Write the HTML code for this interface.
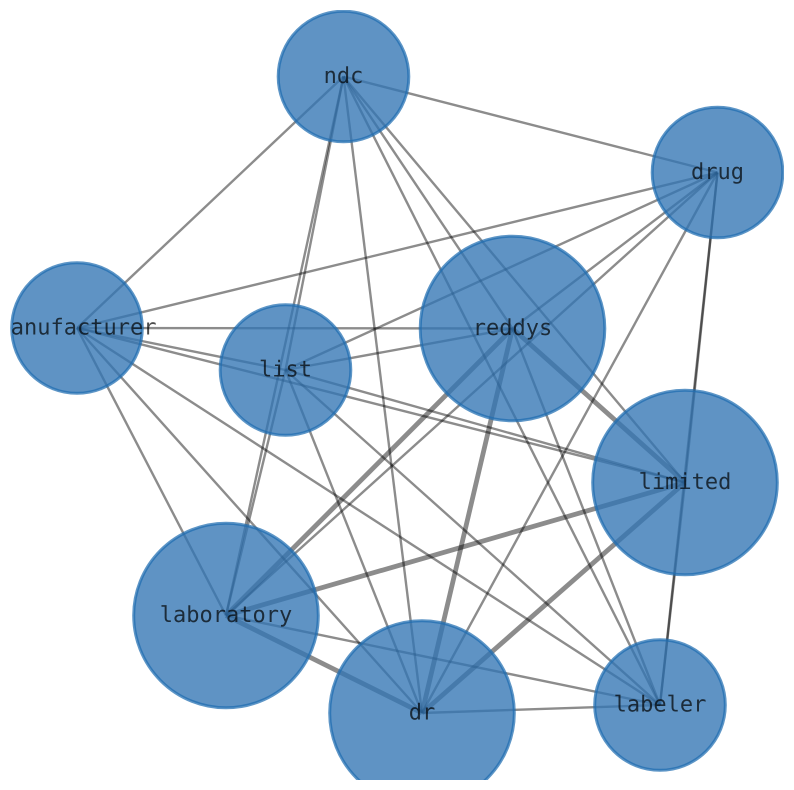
<!DOCTYPE html>
<html>
<head>
<meta charset="utf-8">
<style>
html,body{margin:0;padding:0;background:#fff;width:794px;height:790px;overflow:hidden}
svg{display:block}
.e line{stroke:#000;stroke-opacity:.45;stroke-width:2.4;fill:none}
.e line.t{stroke-width:4.8}
.n circle{fill:#3274b4;fill-opacity:.78;stroke:#1f6cb0;stroke-opacity:.72;stroke-width:3}
text{font-family:"DejaVu Sans Mono","Liberation Mono",monospace;font-size:22px;fill:#000;fill-opacity:.7;text-anchor:middle;dominant-baseline:central;text-rendering:geometricPrecision}
</style>
</head>
<body>
<svg width="794" height="790" viewBox="0 0 794 790" xmlns="http://www.w3.org/2000/svg">
<defs><clipPath id="c"><rect x="10" y="10" width="774" height="770"/></clipPath></defs>
<g clip-path="url(#c)">
<g class="e">
<line x1="343.5" y1="76.5" x2="717.5" y2="172.5"/>
<line x1="343.5" y1="76.5" x2="77" y2="328"/>
<line x1="343.5" y1="76.5" x2="285.5" y2="370"/>
<line x1="343.5" y1="76.5" x2="512.5" y2="328.5"/>
<line x1="343.5" y1="76.5" x2="685" y2="482.5"/>
<line x1="343.5" y1="76.5" x2="226" y2="615.5"/>
<line x1="343.5" y1="76.5" x2="422" y2="713"/>
<line x1="343.5" y1="76.5" x2="660" y2="705"/>
<line x1="717.5" y1="172.5" x2="77" y2="328"/>
<line x1="717.5" y1="172.5" x2="285.5" y2="370"/>
<line x1="717.5" y1="172.5" x2="512.5" y2="328.5"/>
<line x1="717.5" y1="172.5" x2="226" y2="615.5"/>
<line x1="717.5" y1="172.5" x2="422" y2="713"/>
<line x1="717.5" y1="172.5" x2="685" y2="482.5"/>
<line x1="717.5" y1="172.5" x2="660" y2="705"/>
<line x1="77" y1="328" x2="512.5" y2="328.5"/>
<line x1="77" y1="328" x2="285.5" y2="370"/>
<line x1="77" y1="328" x2="685" y2="482.5"/>
<line x1="77" y1="328" x2="226" y2="615.5"/>
<line x1="77" y1="328" x2="422" y2="713"/>
<line x1="77" y1="328" x2="660" y2="705"/>
<line x1="285.5" y1="370" x2="512.5" y2="328.5"/>
<line x1="285.5" y1="370" x2="685" y2="482.5"/>
<line x1="285.5" y1="370" x2="226" y2="615.5"/>
<line x1="285.5" y1="370" x2="422" y2="713"/>
<line x1="285.5" y1="370" x2="660" y2="705"/>
<line class="t" x1="512.5" y1="328.5" x2="685" y2="482.5"/>
<line class="t" x1="512.5" y1="328.5" x2="226" y2="615.5"/>
<line class="t" x1="512.5" y1="328.5" x2="422" y2="713"/>
<line x1="512.5" y1="328.5" x2="660" y2="705"/>
<line class="t" x1="685" y1="482.5" x2="226" y2="615.5"/>
<line class="t" x1="685" y1="482.5" x2="422" y2="713"/>
<line x1="685" y1="482.5" x2="660" y2="705"/>
<line class="t" x1="226" y1="615.5" x2="422" y2="713"/>
<line x1="226" y1="615.5" x2="660" y2="705"/>
<line x1="422" y1="713" x2="660" y2="705"/>
</g>
<g class="n">
<circle cx="343.5" cy="76.5" r="65.3"/>
<circle cx="717.5" cy="172.5" r="65.3"/>
<circle cx="77" cy="328" r="65.3"/>
<circle cx="285.5" cy="370" r="65.3"/>
<circle cx="512.5" cy="328.5" r="92.3"/>
<circle cx="685" cy="482.5" r="92.3"/>
<circle cx="226" cy="615.5" r="92.3"/>
<circle cx="422" cy="713" r="92.3"/>
<circle cx="660" cy="705" r="65.3"/>
</g>
<g>
<text x="343.5" y="76.5">ndc</text>
<text x="717.5" y="172.5">drug</text>
<text x="77" y="328">manufacturer</text>
<text x="285.5" y="370">list</text>
<text x="512.5" y="328.5">reddys</text>
<text x="685" y="482.5">limited</text>
<text x="226" y="615.5">laboratory</text>
<text x="422" y="713">dr</text>
<text x="660" y="705">labeler</text>
</g>
</g>
</svg>
</body>
</html>
